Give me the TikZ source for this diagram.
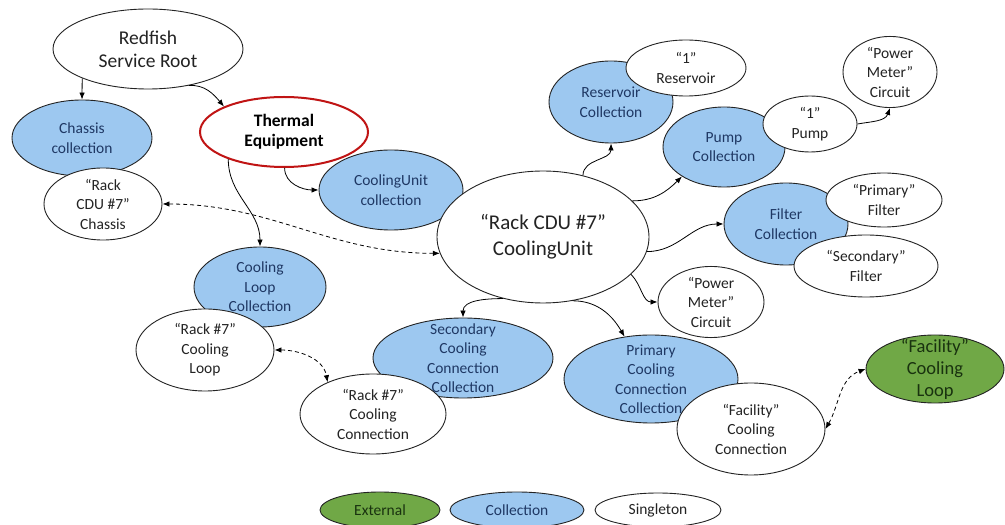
\documentclass[tikz,border=0pt]{standalone}
\usepackage{fontspec}
\setmainfont{Carlito}
\usetikzlibrary{shapes.geometric,arrows.meta}

\definecolor{collblue}{RGB}{157,200,240}
\definecolor{extgreen}{RGB}{112,168,70}
\definecolor{thermred}{RGB}{192,20,20}
\definecolor{navytext}{RGB}{31,56,100}
\definecolor{darktext}{RGB}{35,35,35}
\definecolor{greentext}{RGB}{25,50,15}

\tikzset{
  blob/.style={ellipse, draw=darktext, line width=0.9pt, inner sep=0pt, align=center,
    font=\fontsize{15.5}{19.5}\selectfont},
  single/.style={blob, fill=white, text=darktext},
  coll/.style={blob, fill=collblue, text=navytext},
  colltext/.style={inner sep=0pt, align=center, text=navytext, font=\fontsize{15.5}{19.5}\selectfont},
  extern/.style={blob, fill=extgreen, text=greentext},
  arr/.style={->, line width=0.8pt, draw=black},
  link/.style={<->, line width=0.8pt, draw=black, dashed, dash pattern=on 4pt off 3pt},
  >={Latex[length=7pt,width=5.5pt]}
}

\begin{document}
\begin{tikzpicture}[x=1pt, y=1pt]
\useasboundingbox (0,0) rectangle (1005,525);

% Service root and chassis
\node[single, minimum width=190, minimum height=80, font=\fontsize{19.5}{23}\selectfont] (root) at (148,476) {Redfish\\Service Root};
\node[coll, minimum width=140, minimum height=76] (chassiscoll) at (82,387) {Chassis\\collection};
\node[single, minimum width=118, minimum height=72] (chassis) at (103,321) {“Rack\\CDU \#7”\\Chassis};
\node[single, draw=thermred, line width=2pt, minimum width=168, minimum height=70, font=\bfseries\fontsize{17.5}{20}\selectfont, text=black] (thermal) at (284,393) {Thermal\\Equipment};

% Cooling units
\node[coll, minimum width=144, minimum height=80] (cucoll) at (391,335) {CoolingUnit\\collection};
\node[single, minimum width=212, minimum height=132, font=\fontsize{21}{26}\selectfont] (cdu) at (543,288) {“Rack CDU \#7”\\CoolingUnit};

% Reservoir, pump, filters
\node[coll, minimum width=124, minimum height=82] (rescoll) at (611,423) {Reservoir\\Collection};
\node[single, minimum width=120, minimum height=56] (res) at (686,457) {“1”\\Reservoir};
\node[coll, minimum width=122, minimum height=80] (pumpcoll) at (724,378) {Pump\\Collection};
\node[single, minimum width=94, minimum height=56] (pump) at (810,401) {“1”\\Pump};
\node[single, minimum width=94, minimum height=70] (pmtop) at (890,453) {“Power\\Meter”\\Circuit};
\node[coll, minimum width=124, minimum height=82] (filtcoll) at (786,301) {Filter\\Collection};
\node[single, minimum width=116, minimum height=54] (primfilt) at (884,325) {“Primary”\\Filter};
\node[single, minimum width=144, minimum height=62] (secfilt) at (866,259) {“Secondary”\\Filter};
\node[single, minimum width=106, minimum height=68] (pmmid) at (711,223) {“Power\\Meter”\\Circuit};

% Cooling loops and connections
\node[coll, minimum width=132, minimum height=80] (loopcoll) at (260,238) {Cooling\\Loop\\Collection};
\node[single, minimum width=138, minimum height=82] (loop) at (205,175) {“Rack \#7”\\Cooling\\Loop};
\node[coll, minimum width=180, minimum height=80] (seccoll) at (463,167) {};
\node[single, minimum width=146, minimum height=80] (rackconn) at (373,111) {“Rack \#7”\\Cooling\\Connection};
\node[colltext] (seccolltext) at (seccoll) {Secondary\\Cooling\\Connection\\Collection};
\node[coll, minimum width=174, minimum height=88] (primcoll) at (651,146) {};
\node[single, minimum width=148, minimum height=92] (facconn) at (751,96) {“Facility”\\Cooling\\Connection};
\node[colltext] (primcolltext) at (primcoll) {Primary\\Cooling\\Connection\\Collection};
\node[extern, inner ysep=-14pt, minimum width=138, minimum height=68, font=\fontsize{18.5}{22}\selectfont] (facloop) at (935,156) {“Facility”\\Cooling\\Loop};

% Legend
\node[extern, minimum width=120, minimum height=36] (legext) at (380,15) {External};
\node[coll, minimum width=134, minimum height=36] (legcoll) at (517,15) {Collection};
\node[single, minimum width=126, minimum height=34] (legsingle) at (658,15) {Singleton};

% Links
\draw[arr] (root.204) -- (chassiscoll.north);
\draw[arr] (root.318) to[out=5, in=130] (thermal.157);
\draw[arr] (thermal.271) to[out=270, in=180] (cucoll.west);
\draw[arr] (thermal.206) to[out=270, in=90] (loopcoll.north);
\draw[link] (chassis.east) to[out=0, in=180] (cdu.189);
\draw[arr] (cdu.57) to[out=90, in=270] (rescoll.south);
\draw[arr] (cdu.22) to[out=0, in=225] (pumpcoll.215);
\draw[arr] (cdu.352) to[out=0, in=180] (filtcoll.west);
\draw[arr] (cdu.337) to[out=-45, in=180] (pmmid.west);
\draw[arr] (cdu.237) to[out=180, in=90] (seccoll.north);
\draw[arr] (cdu.295) to[out=0, in=120] (primcoll.122);
\draw[arr] (pump.east) to[out=10, in=250] (pmtop.south);
\draw[link] (loop.east) to[out=0, in=100] (rackconn.145);
\draw[link] (facconn.east) to[out=60, in=200] (facloop.west);

\end{tikzpicture}
\end{document}
